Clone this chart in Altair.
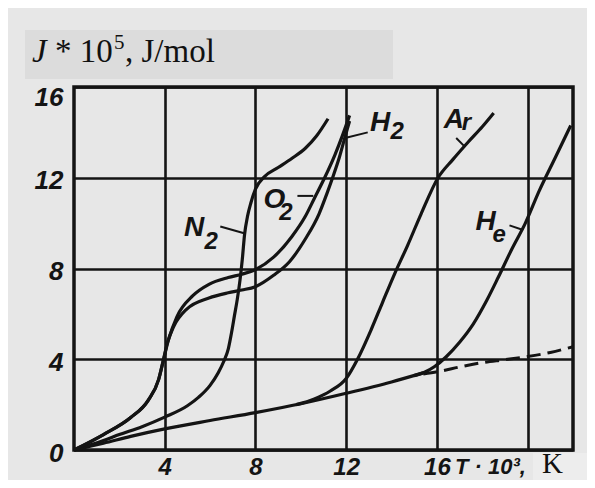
import altair as alt
import pandas as pd

# ---- data (T in 10^3 K, J in 10^5 J/mol) ----
base_x = [0, 1.3, 2.5, 4, 6, 8, 10, 12, 14, 15.4]
base_y = [0, 0.3, 0.6, 0.93, 1.3, 1.65, 2.04, 2.5, 3.0, 3.4]

dash_x = [15.4, 16.2, 17.0, 18.0, 19.0, 20.0, 21.0, 22.0]
dash_y = [3.35, 3.48, 3.66, 3.85, 3.98, 4.12, 4.3, 4.55]

he_x = [15.0, 15.5, 15.9, 16.4, 17.0, 17.6, 18.2, 18.7, 19.3, 19.9, 20.5, 21.2, 21.9]
he_y = [3.28, 3.45, 3.68, 4.1, 4.75, 5.55, 6.6, 7.6, 8.85, 10.0, 11.4, 12.85, 14.3]

ar_x = [9.8, 10.6, 11.3, 12.0, 12.5, 13.1, 13.6, 14.15, 14.7, 15.3, 16.05, 16.7, 17.4, 18.0, 18.5]
ar_y = [2.0, 2.25, 2.6, 3.15, 4.0, 5.3, 6.5, 7.8, 9.0, 10.4, 12.0, 12.8, 13.6, 14.25, 14.85]

n2_x = [0, 1.3, 2, 3, 4, 5, 5.5, 6, 6.36, 6.6, 6.8, 6.95, 7.07, 7.2, 7.32, 7.42, 7.52,
        7.65, 7.8, 8.0, 8.4, 9.0, 9.6, 10.2, 10.7, 11.2]
n2_y = [0, 0.42, 0.68, 1.03, 1.45, 1.95, 2.33, 2.85, 3.4, 3.9, 4.45, 5.2, 5.9, 6.65, 7.5, 8.4, 9.5,
        10.3, 10.9, 11.5, 12.05, 12.45, 12.85, 13.3, 13.85, 14.6]

o2_x = [0, 1.3, 2.5, 3.27, 3.73, 3.95, 4.15, 4.54, 5.24, 5.95, 6.8, 7.4, 8.0, 8.8, 9.6, 10.2,
        10.6, 11.05, 11.5, 11.85, 12.15]
o2_y = [0, 0.68, 1.43, 2.19, 3.1, 4.0, 4.8, 5.88, 6.8, 7.3, 7.6, 7.75, 7.95, 8.5, 9.4, 10.3,
        11.1, 12.0, 13.0, 13.9, 14.75]

h2_x = [0, 1.3, 2.5, 3.27, 3.73, 3.95, 4.11, 4.4, 4.96, 5.95, 6.8, 7.4, 8.0, 8.8, 9.5, 10.2,
        10.8, 11.15, 11.4, 11.7, 11.95, 12.15]
h2_y = [0, 0.68, 1.43, 2.19, 3.1, 4.0, 4.7, 5.45, 6.2, 6.7, 6.93, 7.05, 7.2, 7.7, 8.3, 9.3,
        10.4, 11.3, 12.0, 12.9, 13.8, 14.5]

# curve labels (main letter + subscript)
label_text = ["N", "2", "O", "2", "H", "2", "A", "r", "H", "e"]
label_x = [4.85, 5.75, 8.35, 9.05, 13.05, 13.95, 16.3, 17.1, 17.7, 18.45]
label_y = [9.45, 8.85, 10.67, 10.15, 14.05, 13.7, 14.2, 14.1, 9.71, 9.15]
label_size = [28, 24, 28, 24, 28, 24, 28, 24, 28, 24]

# leader strokes from labels to curves
lead_x = [6.45, 9.85, 11.95, 16.85, 19.2]
lead_y = [9.85, 11.2, 13.75, 13.75, 9.9]
lead_x2 = [7.5, 10.55, 12.95, 17.25, 19.8]
lead_y2 = [9.55, 11.2, 14.0, 13.35, 9.7]

x_ticks = [4, 8, 12, 16, 20]
y_ticks = [0, 4, 8, 12, 16]

INK = "#141414"
TICK_FONT = "Liberation Sans"

def curve(name, xs, ys):
    return pd.DataFrame({"x": xs, "y": ys, "series": name})

solid = pd.concat([
    curve("base", base_x, base_y),
    curve("He", he_x, he_y),
    curve("Ar", ar_x, ar_y),
    curve("N2", n2_x, n2_y),
    curve("O2", o2_x, o2_y),
    curve("H2", h2_x, h2_y),
])
dashed = curve("base_ext", dash_x, dash_y)
labels = pd.DataFrame({"t": label_text, "x": label_x, "y": label_y, "s": label_size})
leaders = pd.DataFrame({"x": lead_x, "y": lead_y, "x2": lead_x2, "y2": lead_y2})
one = pd.DataFrame({"a": [0]})

xs = alt.Scale(domain=[0, 22], nice=False, zero=False)
ys = alt.Scale(domain=[0, 16], nice=False, zero=False)

X = alt.X("x:Q", scale=xs, axis=alt.Axis(
    values=x_ticks, grid=True, ticks=False, domain=False, title=None,
    labelExpr="datum.value <= 16 ? datum.label : ''",
    labelPadding=5, labelFontSize=24, labelFont=TICK_FONT, labelFontStyle="italic",
    labelFontWeight="bold", labelColor=INK, gridColor=INK, gridWidth=2.6, gridOpacity=1,
    labelBaseline="top"))
Y = alt.Y("y:Q", scale=ys, axis=alt.Axis(
    values=y_ticks, grid=True, ticks=False, domain=False, title=None,
    labelOffset={"condition": {"test": "datum.value == 16", "value": 10}, "value": 3},
    labelPadding=11, labelFontSize=26, labelFont=TICK_FONT, labelFontStyle="italic",
    labelFontWeight="bold", labelColor=INK, gridColor=INK, gridWidth=2.6, gridOpacity=1))

base = alt.Chart(solid).mark_line(color=INK, strokeWidth=3.2, interpolate="monotone").encode(
    x=X, y=Y, detail="series:N", order="x:Q")

ext = alt.Chart(dashed).mark_line(color=INK, strokeWidth=3.0, strokeDash=[14, 7],
                                  interpolate="monotone").encode(
    x=alt.X("x:Q", scale=xs), y=alt.Y("y:Q", scale=ys))

lead = alt.Chart(leaders).mark_rule(color=INK, strokeWidth=2).encode(
    x=alt.X("x:Q", scale=xs), y=alt.Y("y:Q", scale=ys), x2="x2:Q", y2="y2:Q")

txt = alt.Chart(labels).mark_text(align="left", baseline="alphabetic", font=TICK_FONT,
                                  fontStyle="italic", fontWeight="bold", color=INK).encode(
    x=alt.X("x:Q", scale=xs), y=alt.Y("y:Q", scale=ys), text="t:N",
    size=alt.Size("s:Q", scale=None, legend=None))

# title box and title text (outside the plot area)
tbox = alt.Chart(one).mark_rect(color="#dcdcdc").encode(
    x=alt.value(-49), x2=alt.value(319), y=alt.value(-57), y2=alt.value(-8))
t1 = alt.Chart(one).mark_text(text="J", font="Liberation Serif", fontStyle="italic", fontSize=33,
                              align="left", baseline="alphabetic", color="#111").encode(
    x=alt.value(-42), y=alt.value(-25))
t2 = alt.Chart(one).mark_text(text="* 10", font="Liberation Serif", fontSize=33,
                              align="left", baseline="alphabetic", color="#111").encode(
    x=alt.value(-19), y=alt.value(-25))
t3 = alt.Chart(one).mark_text(text="5", font="Liberation Serif", fontSize=21,
                              align="left", baseline="alphabetic", color="#111").encode(
    x=alt.value(40), y=alt.value(-38))
t4 = alt.Chart(one).mark_text(text=", J/mol", font="Liberation Serif", fontSize=33,
                              align="left", baseline="alphabetic", color="#111").encode(
    x=alt.value(51), y=alt.value(-25))

# x axis unit text
kbox = alt.Chart(one).mark_rect(color="#ededed").encode(
    x=alt.value(459), x2=alt.value(525), y=alt.value(366), y2=alt.value(400))
xt = alt.Chart(one).mark_text(text="T · 10³,", font=TICK_FONT, fontStyle="italic",
                              fontWeight="bold", fontSize=22, align="left",
                              baseline="alphabetic", color=INK).encode(
    x=alt.value(381), y=alt.value(387))
kt = alt.Chart(one).mark_text(text="K", font="Liberation Serif", fontSize=29, align="left",
                              baseline="alphabetic", color="#111").encode(
    x=alt.value(468), y=alt.value(386))

chart = alt.layer(tbox, kbox, base, ext, lead, txt, t1, t2, t3, t4, xt, kt).properties(
    width=499, height=363,
    padding={"left": 66, "top": 79, "right": 14, "bottom": 30},
    autosize=alt.AutoSizeParams(type="none"),
    background="#e7e7e7",
).configure_view(stroke=INK, strokeWidth=3.5)

chart.save("out.html", embed_options={"renderer": "svg", "actions": False})
